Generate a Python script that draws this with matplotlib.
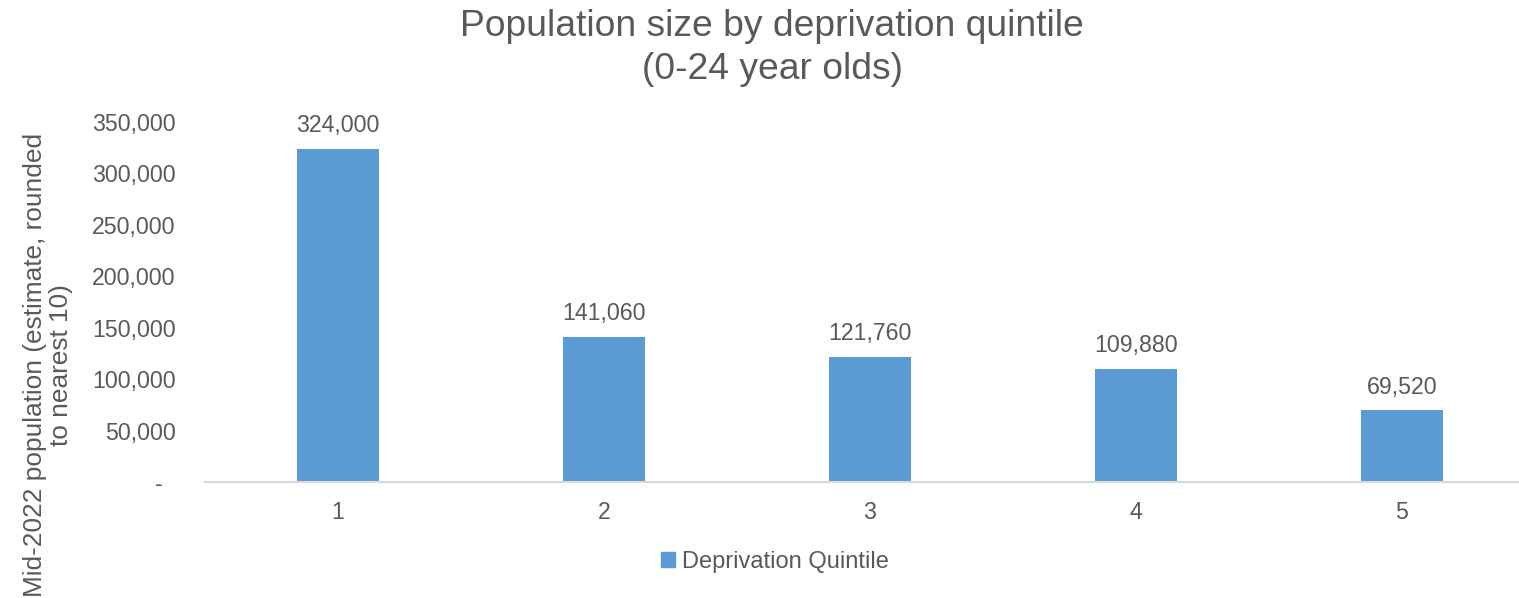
import matplotlib.pyplot as plt
from matplotlib.ticker import FuncFormatter
from matplotlib.patches import Patch

quintiles = ['1', '2', '3', '4', '5']
population = [324000, 141060, 121760, 109880, 69520]
series_name = 'Deprivation Quintile'

plt.rcParams['font.family'] = ['Liberation Sans', 'DejaVu Sans']
grey = '#595959'
blue = '#5B9BD5'

fig = plt.figure(figsize=(15.19, 5.98), dpi=100)
ax = fig.add_axes((205/1519, 1-482/598, 1330/1519, 360/598))

xs = range(len(quintiles))
ax.bar(xs, population, width=0.31, color=blue, zorder=2)
for x, v in zip(xs, population):
    ax.annotate(f'{v:,}', (x, v), xytext=(0, 8.5), textcoords='offset points',
                ha='center', va='bottom', fontsize=16.7, color=grey)

ax.set_xlim(-0.5, len(quintiles) - 0.5)
ax.set_ylim(0, 350000)
ax.set_xticks(list(xs))
ax.set_xticklabels(quintiles)
ax.set_yticks(range(0, 350001, 50000))
ax.yaxis.set_major_formatter(FuncFormatter(lambda v, p: '-  ' if v == 0 else f'{int(v):,}'))
ax.tick_params(axis='both', length=0, labelsize=16.7, labelcolor=grey)
ax.tick_params(axis='y', pad=21)
ax.tick_params(axis='x', pad=14)
for s in ['top', 'right', 'left']:
    ax.spines[s].set_visible(False)
ax.spines['bottom'].set_color('#D9D9D9')
ax.spines['bottom'].set_linewidth(1.5)

fig.text(772/1519, 1-48/598, 'Population size by deprivation quintile\n(0-24 year olds)',
         ha='center', va='center', fontsize=26.8, color=grey, linespacing=1.3)
fig.text(48/1519, 1-365/598, 'Mid-2022 population (estimate, rounded\nto nearest 10)',
         rotation=90, ha='center', va='center', fontsize=18.9, color=grey,
         multialignment='center', linespacing=1.1)

fig.legend(handles=[Patch(color=blue, label=series_name)], loc='center',
           bbox_to_anchor=(775/1519, 1-562/598), frameon=False, fontsize=17,
           labelcolor=grey, handlelength=0.6, handleheight=0.6, handletextpad=0.3)

fig.savefig('out.png', dpi=100)
